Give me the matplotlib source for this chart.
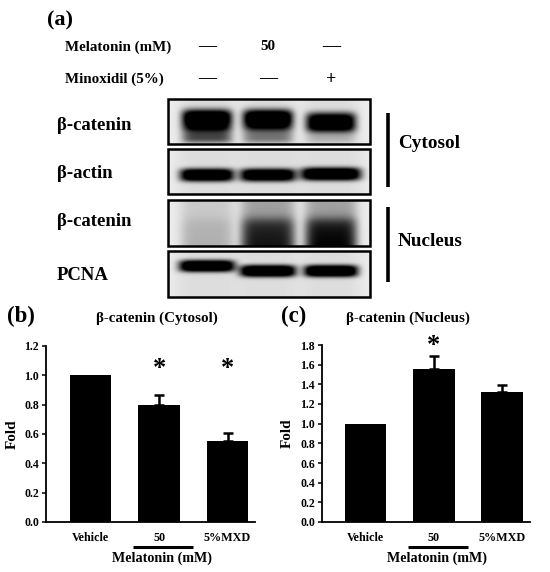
import numpy as np
import matplotlib
matplotlib.use("Agg")
import matplotlib.pyplot as plt
import matplotlib.transforms as mtransforms

plt.rcParams['font.family'] = ['Liberation Serif', 'DejaVu Serif']
plt.rcParams['font.weight'] = 'bold'

# ---------------- data ----------------
groups = ["Vehicle", "50", "5%MXD"]
melatonin_row = ["—", "50", "—"]
minoxidil_row = ["—", "—", "+"]
blot_labels = ["β-catenin", "β-actin", "β-catenin", "PCNA"]

cyto_mean = [1.0, 0.80, 0.555]
cyto_err = [0.0, 0.065, 0.05]
cyto_sig = [False, True, True]

nuc_mean = [1.0, 1.555, 1.318]
nuc_err = [0.0, 0.13, 0.08]
nuc_sig = [False, True, False]

# band intensities (0 = none, 1 = saturated) per lane
band_cyto_bcat = [1.0, 1.0, 0.90]
smear_cyto_bcat = [0.65, 0.45, 0.20]
band_actin = [0.95, 0.92, 1.0]
band_nuc_bcat = [0.10, 0.55, 0.62]
haze_nuc_bcat = [0.08, 0.25, 0.25]
band_pcna = [0.97, 1.0, 1.0]

W, H = 550, 572
fig = plt.figure(figsize=(W / 100, H / 100), dpi=100)

ax0 = fig.add_axes([0, 0, 1, 1])
ax0.set_xlim(0, W)
ax0.set_ylim(H, 0)
ax0.axis('off')

FS_LAB = 13.5

# ---------------- panel (a) ----------------
ax0.text(47, 20, "(a)", fontsize=16, fontweight='bold', va='center', ha='left')
ax0.text(65, 47, "Melatonin (mM)", fontsize=10.8, va='center', ha='left')
ax0.text(65, 79, "Minoxidil (5%)", fontsize=10.8, va='center', ha='left')
lane_x = [207, 268, 331]
for x, t in zip(lane_x, melatonin_row):
    ax0.text(x, 47, t, fontsize=13 if t == "—" else 10.8, va='center', ha='center')
for x, t in zip(lane_x, minoxidil_row):
    ax0.text(x, 79, t, fontsize=13, va='center', ha='center')

box_x0, box_x1 = 168, 370
boxes = [(99, 144), (149, 194), (200, 246), (251, 297)]
label_y = [126, 174, 221, 276]
for lab, y in zip(blot_labels, label_y):
    ax0.text(57, y, lab, fontsize=FS_LAB, va='center', ha='left')


def blot(y0, y1, intens, centers_y, sig_y, halfw, smear=None, smear_range=None,
         broad=False, haze=None):
    h = int(y1 - y0) * 2
    w = int(box_x1 - box_x0) * 2
    yy, xx = np.mgrid[0:h, 0:w]
    xx = xx / 2 + box_x0 + 0.25
    yy = yy / 2 + y0 + 0.25
    img = np.zeros((h, w))
    for i, (cx, a) in enumerate(zip(lane_x, intens)):
        hw = halfw[i]
        px = np.exp(-(np.abs(xx - cx) / hw) ** 6)
        cy = centers_y[i]
        if broad:
            py = 1 / (1 + np.exp(-(yy - cy) / 3.0)) * (0.8 + 0.3 * (yy - y0) / (y1 - y0))
            img += a * px * py
        else:
            py = np.exp(-(np.abs(yy - cy) / sig_y) ** 3)
            img += a * 1.4 * px * py
        if smear is not None:
            s0, s1 = smear_range
            ps = np.exp(-(np.abs(yy - (s0 + s1) / 2) / ((s1 - s0) / 2)) ** 4)
            img += smear[i] * px * ps
        if haze is not None:
            img += haze[i] * px
        img += 0.07 * np.exp(-(np.abs(xx - cx) / (hw + 4)) ** 4)
    img = np.clip(img, 0, 1)
    gray = 0.93 - 0.93 * img
    ax0.imshow(gray, cmap='gray', vmin=0, vmax=1,
               extent=(box_x0, box_x1, y1, y0), aspect='auto',
               interpolation='bilinear', zorder=1)
    ax0.add_patch(plt.Rectangle((box_x0, y0), box_x1 - box_x0, y1 - y0,
                                fill=False, lw=1.8, ec='black', zorder=2))


blot(*boxes[0], band_cyto_bcat, [119, 119, 122], 9.5, [25, 25, 25],
     smear=smear_cyto_bcat, smear_range=(126, 143))
blot(*boxes[1], band_actin, [175, 175, 174], 6.5, [27, 28, 30])
blot(*boxes[2], band_nuc_bcat, [219, 219, 219], 0, [26, 27, 26], broad=True,
     haze=haze_nuc_bcat)
blot(*boxes[3], band_pcna, [266, 271, 271], 6.0, [28, 28, 27])

ax0.plot([388, 388], [113, 187], color='black', lw=2.6, solid_capstyle='butt')
ax0.plot([388, 388], [207, 282], color='black', lw=2.6, solid_capstyle='butt')
ax0.text(398, 144, "Cytosol", fontsize=13.8, va='center', ha='left')
ax0.text(398, 242, "Nucleus", fontsize=13.8, va='center', ha='left')


# ---------------- bar panels ----------------
def bar_panel(left, right, top, bottom, ymax, step, mean, err, sig, title,
              title_x, letter, letter_x, fold_x, xl, xr):
    ax = fig.add_axes([left / W, 1 - bottom / H, (right - left) / W,
                       (bottom - top) / H])
    ax.set_facecolor('none')
    x = np.arange(len(groups))
    ax.bar(x, mean, width=0.61, color='black', zorder=2)
    m = np.array(err) > 0
    ax.errorbar(x[m], np.array(mean)[m], yerr=[np.zeros(m.sum()), np.array(err)[m]],
                fmt='none', ecolor='black', elinewidth=1.8, capsize=3.5,
                capthick=1.8, zorder=3)
    for xi, mu, e, s in zip(x, mean, err, sig):
        if s:
            yv = ymax * 0.87 if mu + e < ymax * 0.8 else mu + e + ymax * 0.06
            ax.text(xi, yv, "*", fontsize=19, ha='center', va='center',
                    clip_on=False)
    ax.set_ylim(0, ymax)
    ax.set_xlim(xl, xr)
    ticks = np.arange(0, ymax + 1e-9, step)
    ax.set_yticks(ticks)
    ax.set_yticklabels([f"{v:.1f}" for v in ticks], fontsize=8.5,
                       fontweight='bold')
    ax.set_xticks(x)
    ax.set_xticklabels(groups, fontsize=8.7, fontweight='bold')
    ax.tick_params(axis='x', length=0, pad=7)
    ax.tick_params(axis='y', direction='out', length=3, width=1.1, pad=2)
    for sp in ['top', 'right']:
        ax.spines[sp].set_visible(False)
    for sp in ['left', 'bottom']:
        ax.spines[sp].set_linewidth(1.3)
    ax.set_ylabel("Fold", fontsize=11, fontweight='bold')
    ax.yaxis.set_label_coords((fold_x - left) / (right - left), 0.5)
    hpx = bottom - top
    tr = mtransforms.blended_transform_factory(ax.transData, ax.transAxes)
    ax.plot([0.62, 1.5], [(bottom - 547) / hpx] * 2, transform=tr,
            color='black', lw=2.2, clip_on=False, solid_capstyle='butt')
    ax.text(1.05, (bottom - 558) / hpx, "Melatonin (mM)", transform=tr,
            fontsize=10.2, ha='center', va='center', fontweight='bold')
    ax.text((title_x - left) / (right - left), (bottom - 318) / hpx, title,
            transform=ax.transAxes, fontsize=10.8, ha='center', va='center',
            fontweight='bold')
    ax0.text(letter_x, 316, letter, fontsize=16.5, fontweight='bold',
             va='center', ha='left')
    return ax


bar_panel(46, 255, 346, 522, 1.2, 0.2, cyto_mean, cyto_err, cyto_sig,
          "β-catenin (Cytosol)", 157, "(b)", 7, 19, -0.65, 2.40)
bar_panel(322, 530, 345, 522, 1.8, 0.2, nuc_mean, nuc_err, nuc_sig,
          "β-catenin (Nucleus)", 408, "(c)", 281, 294, -0.64, 2.41)

fig.savefig("out.png", dpi=100)
